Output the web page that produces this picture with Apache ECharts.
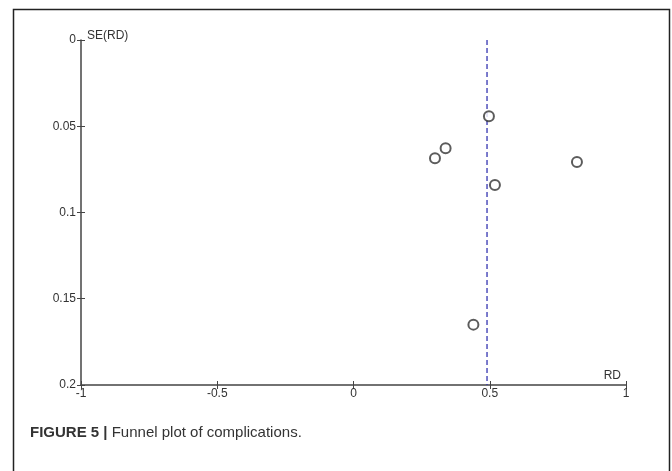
<!DOCTYPE html>
<html>
<head>
<meta charset="utf-8">
<script src="https://cdn.jsdelivr.net/npm/echarts@6/dist/echarts.min.js"></script>
<style>
  html, body { margin: 0; padding: 0; background: #fff; }
  #funnel { width: 672px; height: 471px; }
</style>
</head>
<body>
<div id="funnel"></div>
<script>
// study estimates
var rdValues = [0.497, 0.338, 0.299, 0.820, 0.519, 0.44];
var seValues = [0.0442, 0.0628, 0.0686, 0.0707, 0.0841, 0.165];
var pooledRD = 0.49;
var xTicks = [-1, -0.5, 0, 0.5, 1];
var yTicks = [0, 0.05, 0.1, 0.15, 0.2];

function funnelChart(){
	var chart = echarts.init(document.querySelector('#funnel'))

	var points = rdValues.map(function(rd, i){ return [rd, seValues[i]] })
	var font = 'Liberation Sans'
	var axisColor = '#444'

	// the inner copies only draw the inside half of each tick, so ticks cross the axis
	function xAxisOf(main){
		return {
			type: 'value',
			position: 'bottom',
			min: xTicks[0],
			max: xTicks[xTicks.length - 1],
			interval: 0.5,
			name: main ? 'RD' : '',
			nameLocation: 'end',
			nameGap: 0,
			nameTextStyle: { fontFamily: font, fontSize: 12, color: '#333', align: 'right', verticalAlign: 'bottom', padding: [0, 5, 3, 0] },
			splitLine: { show: false },
			axisLine: { show: main, onZero: false, lineStyle: { color: axisColor, width: 1.5 } },
			axisTick: { inside: !main, length: 4, lineStyle: { color: axisColor } },
			axisLabel: { show: main, fontFamily: font, fontSize: 12, color: '#333', margin: 3 }
		}
	}
	function yAxisOf(main){
		return {
			type: 'value',
			position: 'left',
			inverse: true,
			min: yTicks[0],
			max: yTicks[yTicks.length - 1],
			interval: 0.05,
			name: main ? 'SE(RD)' : '',
			nameLocation: 'start',
			nameGap: -2,
			nameTextStyle: { fontFamily: font, fontSize: 12, color: '#333', align: 'left', padding: [0, 0, 0, 6] },
			splitLine: { show: false },
			axisLine: { show: main, onZero: false, lineStyle: { color: axisColor, width: 1.5 } },
			axisTick: { inside: !main, length: 4, lineStyle: { color: axisColor } },
			axisLabel: { show: main, fontFamily: font, fontSize: 12, color: '#333', margin: 5 }
		}
	}

	var option = {
		animation: false,
		title: {
			text: '{b|FIGURE 5 |} Funnel plot of complications.',
			left: 25,
			top: 420,
			textStyle: {
				fontFamily: font,
				fontSize: 15,
				fontWeight: 'normal',
				color: '#333',
				rich: {
					b: { fontFamily: font, fontSize: 15, fontWeight: 'bold', color: '#333' }
				}
			}
		},
		graphic: [
			{
				type: 'rect',
				shape: { x: 13.5, y: 9.5, width: 656, height: 480 },
				style: { fill: 'none', stroke: '#222', lineWidth: 1.5 },
				silent: true
			}
		],
		grid: { left: 81, right: 46, top: 40, bottom: 86 },
		xAxis: [xAxisOf(true), xAxisOf(false)],
		yAxis: [yAxisOf(true), yAxisOf(false)],
		series: [
			{
				name: 'pooled',
				type: 'line',
				data: [[pooledRD, yTicks[0]], [pooledRD, yTicks[yTicks.length - 1]]],
				symbol: 'none',
				lineStyle: { color: '#3333b0', width: 1.3, type: [5, 3] },
				silent: true
			},
			{
				name: 'studies',
				type: 'scatter',
				data: points,
				symbol: 'emptyCircle',
				symbolSize: 10,
				itemStyle: { color: '#333', borderWidth: 1.3 },
				z: 3
			}
		]
	}

	chart.setOption(option)
}

funnelChart()
</script>
</body>
</html>
